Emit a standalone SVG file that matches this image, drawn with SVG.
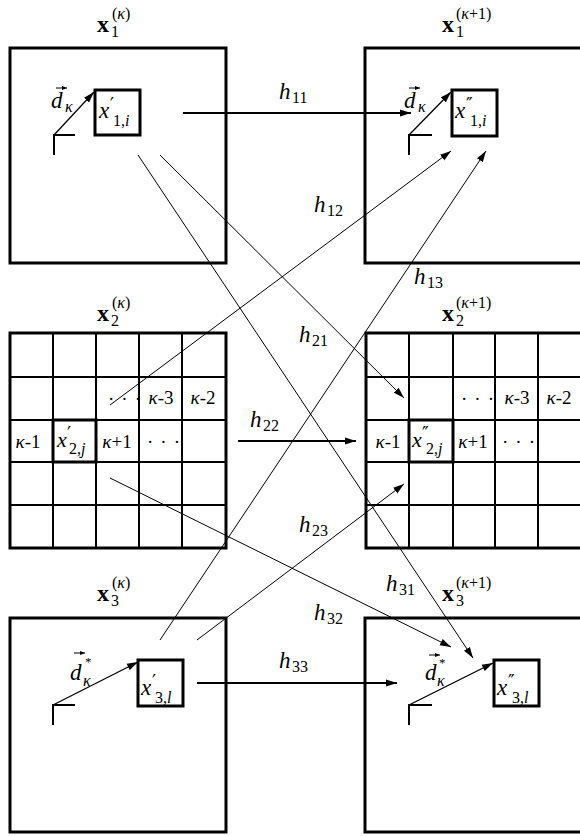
<svg xmlns="http://www.w3.org/2000/svg" width="580" height="836" viewBox="0 0 580 836" font-family="'Liberation Serif', 'DejaVu Serif', serif">
<style>
.bx{fill:none;stroke:#000;stroke-width:3}
.gl{fill:none;stroke:#000;stroke-width:2}
.cn{fill:none;stroke:#000;stroke-width:1}
.hz{fill:none;stroke:#000;stroke-width:2}
.vec{fill:none;stroke:#000;stroke-width:1.3}
.cr{fill:none;stroke:#000;stroke-width:2}
.acc{fill:none;stroke:#000;stroke-width:1}
text{font-family:'Liberation Serif','DejaVu Serif',serif;fill:#000;font-size:23px}
.it{font-style:italic}
.up{font-style:normal}
.b{font-weight:bold;font-size:24px}
.s{font-size:16px}
.p{font-size:18px;font-family:'DejaVu Serif',serif;font-style:normal}
.g{font-size:19px}
.ast{font-size:13px;font-style:normal}
</style>
<defs>
<marker id="ah" markerUnits="userSpaceOnUse" markerWidth="11" markerHeight="8" refX="11" refY="4" orient="auto"><path d="M0,0.5 L11,4 L0,7.5 z" fill="#000"/></marker>
<marker id="as" markerUnits="userSpaceOnUse" markerWidth="5" markerHeight="4" refX="5" refY="2" orient="auto"><path d="M0,0 L5,2 L0,4 z" fill="#000"/></marker>
</defs>

<g id="titles">
<text class="b" x="97" y="32">x<tspan class="s up" font-weight="normal" x="111" y="37">1</tspan><tspan class="s" font-weight="normal" x="112" y="19">(<tspan class="it">κ</tspan>)</tspan></text>
<text class="b" x="442" y="32">x<tspan class="s" font-weight="normal" x="456" y="37">1</tspan><tspan class="s" font-weight="normal" x="456" y="19">(<tspan class="it">κ</tspan>+1)</tspan></text>
<text class="b" x="97" y="321">x<tspan class="s" font-weight="normal" x="111" y="326">2</tspan><tspan class="s" font-weight="normal" x="112" y="308">(<tspan class="it">κ</tspan>)</tspan></text>
<text class="b" x="442" y="321">x<tspan class="s" font-weight="normal" x="456" y="326">2</tspan><tspan class="s" font-weight="normal" x="456" y="308">(<tspan class="it">κ</tspan>+1)</tspan></text>
<text class="b" x="97" y="601">x<tspan class="s" font-weight="normal" x="111" y="606">3</tspan><tspan class="s" font-weight="normal" x="112" y="588">(<tspan class="it">κ</tspan>)</tspan></text>
<text class="b" x="442" y="601">x<tspan class="s" font-weight="normal" x="456" y="606">3</tspan><tspan class="s" font-weight="normal" x="456" y="588">(<tspan class="it">κ</tspan>+1)</tspan></text>
</g>

<g id="node-x1k">
<rect class="bx" x="10" y="48" width="216" height="215"/>
<path class="cr" d="M54,155 V135 H75"/>
<line class="vec" x1="54" y1="135" x2="94" y2="92" marker-end="url(#ah)"/>
<text class="it" x="51" y="108">d<tspan class="s" x="65" y="112">κ</tspan></text>
<line class="acc" x1="56" y1="88" x2="67" y2="88" marker-end="url(#as)"/>
<rect class="bx" x="95" y="90" width="45" height="45"/>
<text class="it" x="99" y="118">x<tspan class="p" x="110" y="111">′</tspan><tspan class="s up" x="113" y="126">1,<tspan class="it">i</tspan></tspan></text>
</g>

<g id="node-x1k1">
<rect class="bx" x="365" y="48" width="230" height="215"/>
<path class="cr" d="M409,155 V135 H432"/>
<line class="vec" x1="409" y1="135" x2="451" y2="92" marker-end="url(#ah)"/>
<text class="it" x="404" y="108">d<tspan class="s" x="418" y="112">κ</tspan></text>
<line class="acc" x1="409" y1="88" x2="420" y2="88" marker-end="url(#as)"/>
<rect class="bx" x="452" y="90" width="45" height="46"/>
<text class="it" x="455" y="118">x<tspan class="p" x="466" y="111">″</tspan><tspan class="s up" x="470" y="126">1,<tspan class="it">i</tspan></tspan></text>
</g>

<g id="node-x2k">
<path class="gl" d="M53,333 V548 M96,333 V548 M139,333 V548 M182,333 V548 M10,377 H226 M10,420 H226 M10,462 H226 M10,505 H226"/>
<rect class="bx" x="10" y="333" width="216" height="215"/>
<rect class="bx" x="53" y="420" width="43" height="42"/>
<text class="g" x="108" y="405" letter-spacing="7">···</text>
<text class="g" x="161" y="404" text-anchor="middle"><tspan class="it">κ</tspan>-3</text>
<text class="g" x="203" y="404" text-anchor="middle"><tspan class="it">κ</tspan>-2</text>
<text class="g" x="28" y="448" text-anchor="middle"><tspan class="it">κ</tspan>-1</text>
<text class="it" x="57" y="447" style="font-size:22px">x<tspan class="p" x="67" y="440">′</tspan><tspan class="s up" x="69" y="454">2,<tspan class="it">j</tspan></tspan></text>
<text class="g" x="117" y="448" text-anchor="middle"><tspan class="it">κ</tspan>+1</text>
<text class="g" x="147" y="448" letter-spacing="7">···</text>
</g>

<g id="node-x2k1">
<path class="gl" d="M409,333 V548 M453,333 V548 M495,333 V548 M538,333 V548 M366,377 H590 M366,420 H590 M366,462 H590 M366,505 H590"/>
<rect class="bx" x="366" y="333" width="216" height="215"/>
<rect class="bx" x="409" y="420" width="44" height="42"/>
<text class="g" x="461" y="405" letter-spacing="7">···</text>
<text class="g" x="517" y="404" text-anchor="middle"><tspan class="it">κ</tspan>-3</text>
<text class="g" x="559" y="404" text-anchor="middle"><tspan class="it">κ</tspan>-2</text>
<text class="g" x="388" y="448" text-anchor="middle"><tspan class="it">κ</tspan>-1</text>
<text class="it" x="412" y="447" style="font-size:22px">x<tspan class="p" x="422" y="440">″</tspan><tspan class="s up" x="426" y="454">2,<tspan class="it">j</tspan></tspan></text>
<text class="g" x="473" y="448" text-anchor="middle"><tspan class="it">κ</tspan>+1</text>
<text class="g" x="502" y="448" letter-spacing="7">···</text>
</g>

<g id="node-x3k">
<rect class="bx" x="10" y="618" width="216" height="214"/>
<path class="cr" d="M53,725 V705 H75"/>
<line class="vec" x1="53" y1="705" x2="138" y2="662" marker-end="url(#ah)"/>
<text class="it" x="70" y="680">d<tspan class="ast" x="85" y="666">*</tspan><tspan class="s" x="83" y="686">κ</tspan></text>
<line class="acc" x1="74" y1="653" x2="85" y2="653" marker-end="url(#as)"/>
<rect class="bx" x="138" y="660" width="45" height="46"/>
<text class="it" x="141" y="695">x<tspan class="p" x="152" y="688">′</tspan><tspan class="s up" x="155" y="703">3,<tspan class="it">l</tspan></tspan></text>
</g>

<g id="node-x3k1">
<rect class="bx" x="365" y="618" width="230" height="214"/>
<path class="cr" d="M409,725 V705 H432"/>
<line class="vec" x1="409" y1="705" x2="493" y2="663" marker-end="url(#ah)"/>
<text class="it" x="425" y="680">d<tspan class="ast" x="439" y="667">*</tspan><tspan class="s" x="437" y="686">κ</tspan></text>
<line class="acc" x1="429" y1="655" x2="440" y2="655" marker-end="url(#as)"/>
<rect class="bx" x="494" y="660" width="45" height="46"/>
<text class="it" x="497" y="695">x<tspan class="p" x="508" y="688">″</tspan><tspan class="s up" x="512" y="703">3,<tspan class="it">l</tspan></tspan></text>
</g>

<g id="connectors">
<line class="hz" x1="183" y1="113" x2="411" y2="113" marker-end="url(#ah)"/>
<line class="hz" x1="238" y1="441" x2="356" y2="441" marker-end="url(#ah)"/>
<line class="hz" x1="197" y1="683" x2="397" y2="683" marker-end="url(#ah)"/>
<line class="cn" x1="138" y1="155" x2="473" y2="658" marker-end="url(#ah)"/>
<line class="cn" x1="160" y1="155" x2="404" y2="398" marker-end="url(#ah)"/>
<line class="cn" x1="110" y1="405" x2="451" y2="151" marker-end="url(#ah)"/>
<line class="cn" x1="160" y1="640" x2="486" y2="151" marker-end="url(#ah)"/>
<line class="cn" x1="110" y1="478" x2="451" y2="647" marker-end="url(#ah)"/>
<line class="cn" x1="197" y1="640" x2="404" y2="484" marker-end="url(#ah)"/>
</g>

<g id="labels">
<text class="it" x="279" y="99">h<tspan class="s up" x="292" y="103">11</tspan></text>
<text class="it" x="314" y="212">h<tspan class="s up" x="327" y="216">12</tspan></text>
<text class="it" x="414" y="284">h<tspan class="s up" x="427" y="288">13</tspan></text>
<text class="it" x="299" y="342">h<tspan class="s up" x="312" y="346">21</tspan></text>
<text class="it" x="250" y="427">h<tspan class="s up" x="263" y="431">22</tspan></text>
<text class="it" x="299" y="532">h<tspan class="s up" x="312" y="536">23</tspan></text>
<text class="it" x="386" y="591">h<tspan class="s up" x="399" y="595">31</tspan></text>
<text class="it" x="314" y="620">h<tspan class="s up" x="327" y="624">32</tspan></text>
<text class="it" x="279" y="668">h<tspan class="s up" x="292" y="672">33</tspan></text>
</g>
</svg>
